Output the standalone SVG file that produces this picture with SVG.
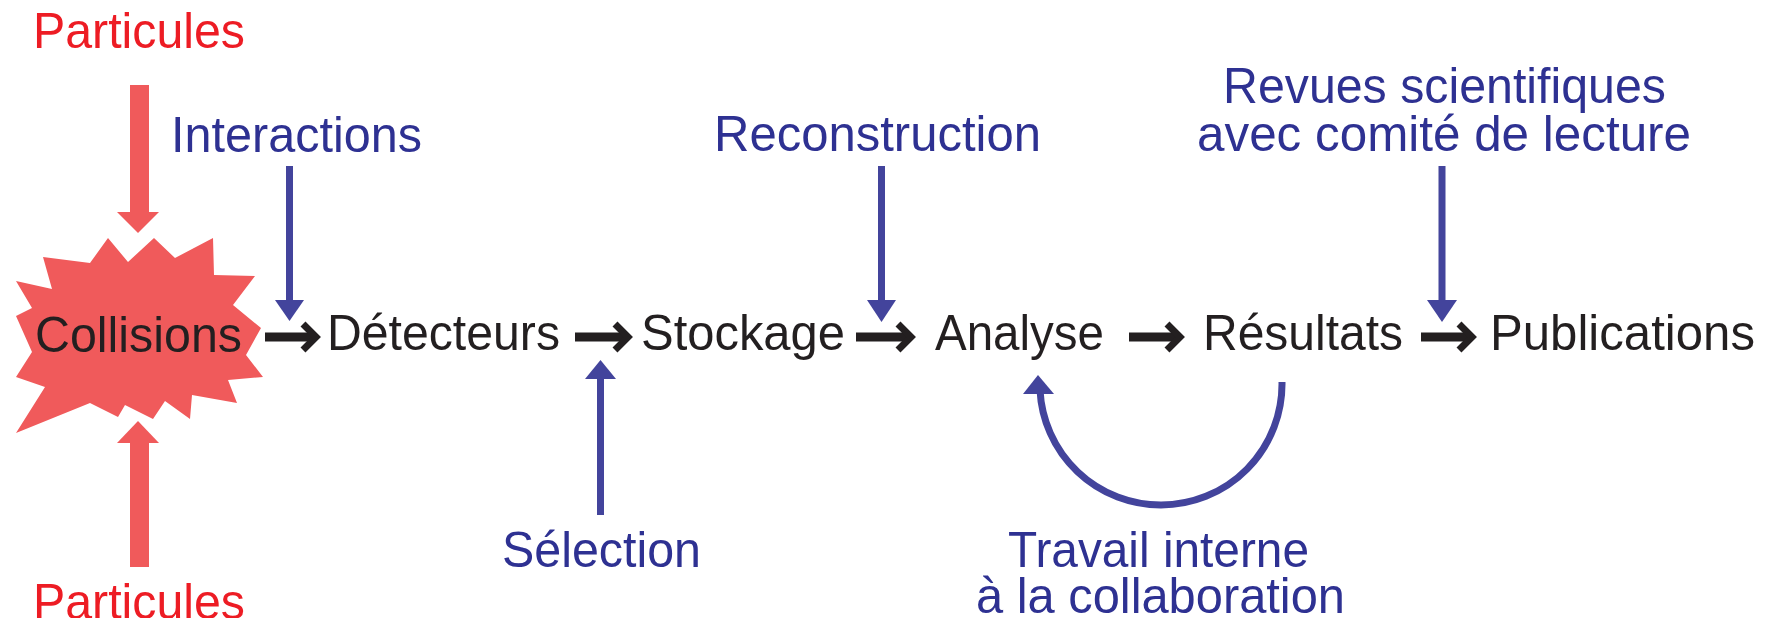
<svg xmlns="http://www.w3.org/2000/svg" width="1765" height="618" viewBox="0 0 1765 618">
<style>
text{font-family:"Liberation Sans",Arial,sans-serif;font-size:50px}
.red{fill:#ed1c24}
.blu{fill:#2e3192}
.blk{fill:#231f20}
.bl{stroke:#43449c;stroke-width:7;fill:none}
.bh{fill:#43449c}
.ks{stroke:#231f20;stroke-width:9;fill:none}
.kh{stroke:#231f20;stroke-width:7;fill:none;stroke-linejoin:miter}
.rf{fill:#f05a5b}
</style>
<rect width="1765" height="618" fill="#fff"/>
<g id="particules-top">
<text class="red" x="33" y="48" textLength="212" lengthAdjust="spacingAndGlyphs">Particules</text>
</g>
<g id="particules-bottom">
<text class="red" x="33" y="619" textLength="212" lengthAdjust="spacingAndGlyphs">Particules</text>
</g>
<g id="collisions">
<polygon class="rf" points="43,257 90,263 108,238 128,262 154,238 175,258 213,238 214,275 255,276 233,305 261,328 246,355 263,377 228,380 237,403 192,395 190,419 165,401 153,419 125,405 118,417 90,403 16,433 45,387 16,377 32,352 16,316 32,308 16,281 52,289"/>
<text class="blk" x="35" y="352" textLength="207" lengthAdjust="spacingAndGlyphs">Collisions</text>
</g>
<g id="detecteurs"><text class="blk" x="327" y="350" textLength="233" lengthAdjust="spacingAndGlyphs">Détecteurs</text></g>
<g id="stockage"><text class="blk" x="641" y="350" textLength="204" lengthAdjust="spacingAndGlyphs">Stockage</text></g>
<g id="analyse"><text class="blk" x="935" y="350" textLength="169" lengthAdjust="spacingAndGlyphs">Analyse</text></g>
<g id="resultats"><text class="blk" x="1203" y="350" textLength="200" lengthAdjust="spacingAndGlyphs">Résultats</text></g>
<g id="publications"><text class="blk" x="1490" y="350" textLength="265" lengthAdjust="spacingAndGlyphs">Publications</text></g>
<g id="interactions"><text class="blu" x="171" y="152" textLength="251" lengthAdjust="spacingAndGlyphs">Interactions</text></g>
<g id="reconstruction"><text class="blu" x="714" y="151" textLength="327" lengthAdjust="spacingAndGlyphs">Reconstruction</text></g>
<g id="revues">
<text class="blu" x="1223" y="103" textLength="443" lengthAdjust="spacingAndGlyphs">Revues scientifiques</text>
<text class="blu" x="1197" y="151" textLength="494" lengthAdjust="spacingAndGlyphs">avec comité de lecture</text>
</g>
<g id="selection"><text class="blu" x="502" y="567" textLength="199" lengthAdjust="spacingAndGlyphs">Sélection</text></g>
<g id="travail">
<text class="blu" x="1008" y="567" textLength="301" lengthAdjust="spacingAndGlyphs">Travail interne</text>
<text class="blu" x="976" y="613" textLength="369" lengthAdjust="spacingAndGlyphs">à la collaboration</text>
</g>
<g id="connectors">
<rect class="rf" x="130" y="85" width="19" height="128"/>
<polygon class="rf" points="117,212 159,212 138,233"/>
<rect class="rf" x="130" y="442" width="19" height="125"/>
<polygon class="rf" points="117,443 159,443 138,421"/>
<line class="ks" x1="265" y1="337" x2="312" y2="337"/><polyline class="kh" points="303,324 316,337 303,350"/>
<line class="ks" x1="575" y1="337" x2="624" y2="337"/><polyline class="kh" points="615,324 628,337 615,350"/>
<line class="ks" x1="856" y1="337" x2="907" y2="337"/><polyline class="kh" points="898,324 911,337 898,350"/>
<line class="ks" x1="1129" y1="337" x2="1176" y2="337"/><polyline class="kh" points="1167,324 1180,337 1167,350"/>
<line class="ks" x1="1421" y1="337" x2="1468" y2="337"/><polyline class="kh" points="1459,324 1472,337 1459,350"/>
<line class="bl" x1="289.5" y1="166" x2="289.5" y2="305"/><polygon class="bh" points="275,300 304,300 289.5,321"/>
<line class="bl" x1="881.5" y1="166" x2="881.5" y2="305"/><polygon class="bh" points="867,300 896,300 881.5,322"/>
<line class="bl" x1="1442" y1="166" x2="1442" y2="305"/><polygon class="bh" points="1427,300 1457,300 1442,322"/>
<line class="bl" x1="600.5" y1="515" x2="600.5" y2="376"/><polygon class="bh" points="585,379 616,379 600.5,360"/>
<path class="bl" d="M1282,382 A121,121 0 0 1 1161,505 A121,121 0 0 1 1040,390"/>
<polygon class="bh" points="1023,394 1054,394 1038,375"/>
</g>
</svg>
